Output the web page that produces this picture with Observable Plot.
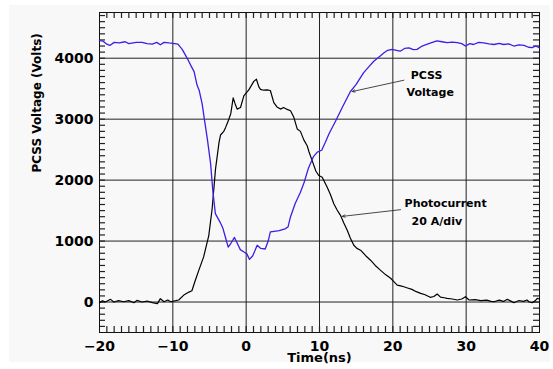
<!DOCTYPE html>
<html><head><meta charset="utf-8">
<script src="https://cdn.jsdelivr.net/npm/d3@7"></script>
<script src="https://cdn.jsdelivr.net/npm/@observablehq/plot@0.6"></script>
<style>
html,body{margin:0;padding:0;background:#fff;}
#wrap{position:relative;width:553px;height:369px;}
#bg{position:absolute;left:9px;top:5px;width:541px;height:357px;background:#f8f8f8;}
#chart{position:absolute;left:0;top:0;}
</style></head>
<body><div id="wrap"><div id="bg"></div><div id="chart"></div></div>
<script>
// PCSS voltage (Volts) vs time (ns)
const voltTime = [-20,-19.5,-19,-18.6,-18,-17.3,-16.5,-16,-15,-14.2,-13.5,-12.8,-12.2,-11.7,-11.2,-10.5,-10,-9.3,-8.7,-8,-7.5,-7.1,-6.7,-6.4,-6,-5.7,-5.3,-4.85,-4.55,-4.2,-3.6,-3.2,-2.8,-2.45,-2.1,-1.6,-1.2,-0.8,-0.3,0.1,0.45,0.9,1.5,2,2.6,3,3.3,3.8,4.5,5.3,5.7,6.05,6.7,7.4,7.9,8.5,9.2,9.7,10.3,10.8,11.3,12.2,13.1,14.2,15,16,16.8,17.4,18.2,18.8,19.3,19.9,20.5,21,21.6,22.2,22.8,23.3,24,24.7,25.4,26,26.7,27.4,28.1,28.8,29.4,29.9,30.5,31,31.7,32.4,33.1,33.8,34.5,35.1,35.8,36.5,37.2,37.9,38.5,39,39.5,40];
const voltValue = [4290,4280,4230,4210,4260,4250,4270,4240,4260,4260,4240,4230,4260,4220,4260,4250,4245,4230,4140,3990,3870,3780,3560,3470,3250,3000,2680,2270,1830,1450,1320,1220,1050,900,960,1060,960,860,820,790,700,760,930,880,870,1000,1150,1160,1170,1200,1230,1400,1620,1800,1960,2200,2390,2460,2490,2620,2760,2970,3190,3450,3570,3760,3870,3950,4030,4090,4130,4145,4130,4115,4160,4170,4140,4145,4200,4230,4260,4285,4270,4255,4265,4255,4240,4200,4240,4225,4260,4250,4235,4225,4245,4225,4235,4200,4220,4210,4180,4175,4200,4170];

// Photocurrent (20 A/div, drawn on the voltage axis) vs time (ns)
const photoTime = [-20,-19.6,-19.2,-18.5,-18.05,-17.4,-16.7,-16,-15.3,-14.9,-14.2,-13.5,-12.8,-12.1,-11.7,-11.2,-10.7,-10.3,-9.6,-9.2,-8.5,-7.8,-7.4,-7,-6.45,-5.8,-5.1,-4.64,-4.18,-3.7,-3.5,-3.05,-2.8,-2.36,-2.1,-1.77,-1.5,-1.23,-0.77,-0.32,0.36,1.04,1.4,1.73,1.95,2.4,2.86,3.3,3.77,4.2,4.68,5.1,5.6,6.05,6.5,6.96,7.4,7.86,8.32,8.55,9,9.5,9.9,10.37,11.05,11.5,11.95,12.4,12.86,13.3,13.78,14.2,14.68,15.1,15.6,16.3,16.96,17.6,18.3,19,19.7,20.1,20.6,21.05,21.5,22,22.6,23.2,23.8,24.4,25.1,25.6,26.05,26.5,27,27.4,28.1,28.8,29.4,29.9,30.4,31.2,32,32.8,33.4,33.8,34.5,35.1,35.6,36.1,36.5,37.2,37.8,38.3,38.6,39,39.4,39.7,40];
const photoValue = [-11,22,0,44,0,22,5,22,-11,27,0,16,-11,-27,55,5,33,5,22,33,114,163,185,332,523,740,1090,1530,2180,2620,2740,2800,2865,3000,3090,3350,3250,3165,3191,3382,3480,3620,3655,3530,3490,3475,3480,3470,3270,3200,3165,3190,3160,3137,3030,2840,2800,2660,2565,2470,2320,2150,2075,2048,1884,1760,1612,1510,1422,1300,1176,1050,931,880,850,760,686,600,523,450,390,340,278,265,250,230,207,170,142,120,77,90,131,80,70,60,50,33,50,87,33,40,22,30,10,5,30,10,44,15,-11,25,10,33,0,-11,20,60,50];

const xDomain = [-20, 40];
const yDomain = [-500, 4750];
const xTicks = [-20,-10,0,10,20,30,40];
const yTicks = [0,1000,2000,3000,4000];
const xMinor = d3.range(-19, 40, 1);
const yMinor = d3.range(-400, 4750, 100);

// annotations
const labelText = ["PCSS", "Voltage", "Photocurrent", "20 A/div"];
const labelX = [24.6, 25.1, 27.2, 26.0];
const labelY = [3725, 3440, 1609, 1315];
const arrowX1 = [21.5, 21.05];
const arrowY1 = [3639, 1515];
const arrowX2 = [14.46, 13.1];
const arrowY2 = [3453, 1405];

const volt = voltTime.map((t, i) => ({t, v: voltValue[i]}));
const photo = photoTime.map((t, i) => ({t, v: photoValue[i]}));
const labels = labelText.map((s, i) => ({s, x: labelX[i], y: labelY[i]}));
const arrows = arrowX1.map((x1, i) => ({x1, y1: arrowY1[i], x2: arrowX2[i], y2: arrowY2[i]}));

const fmt = d => d < 0 ? "\u2212" + (-d) : String(d);

const W = 553, H = 369, ML = 99, MR = 14, MT = 12, MB = 37, TICK = 6;
// tick length of TICK pixels expressed in each scale's units
const tx = TICK * (xDomain[1] - xDomain[0]) / (W - ML - MR);
const ty = TICK * (yDomain[1] - yDomain[0]) / (H - MT - MB);
const tickStyle = {stroke: "#222", strokeWidth: 1.2, strokeOpacity: 1};

const chart = Plot.plot({
  width: W,
  height: H,
  marginLeft: ML,
  marginRight: MR,
  marginTop: MT,
  marginBottom: MB,
  style: {background: "transparent", fontFamily: "DejaVu Sans", fontWeight: "bold", fontSize: "14px", color: "#000"},
  x: {domain: xDomain},
  y: {domain: yDomain},
  marks: [
    Plot.gridX(xTicks, {stroke: "#222", strokeOpacity: 1}),
    Plot.gridY(yTicks, {stroke: "#222", strokeOpacity: 1}),
    // inward minor ticks on all four sides
    Plot.ruleX(xMinor, {x: d => d, y1: () => yDomain[0], y2: () => yDomain[0] + ty, ...tickStyle}),
    Plot.ruleX(xMinor, {x: d => d, y1: () => yDomain[1] - ty, y2: () => yDomain[1], ...tickStyle}),
    Plot.ruleY(yMinor, {y: d => d, x1: () => xDomain[0], x2: () => xDomain[0] + tx, ...tickStyle}),
    Plot.ruleY(yMinor, {y: d => d, x1: () => xDomain[1] - tx, x2: () => xDomain[1], ...tickStyle}),
    Plot.axisX(xTicks, {anchor: "bottom", tickSize: 0, tickPadding: 9, tickFormat: fmt, label: null, fontSize: 14}),
    Plot.axisY(yTicks, {anchor: "left", tickSize: 0, tickPadding: 6, tickFormat: fmt, label: null, fontSize: 14}),
    Plot.frame({stroke: "#111"}),
    Plot.line(photo, {x: "t", y: "v", stroke: "#000", strokeWidth: 1.2}),
    Plot.line(volt, {x: "t", y: "v", stroke: "#3c1ee6", strokeWidth: 1.3}),
    Plot.arrow(arrows, {x1: "x1", y1: "y1", x2: "x2", y2: "y2", stroke: "#333", strokeWidth: 0.9, headLength: 5, headAngle: 45}),
    Plot.text(labels, {x: "x", y: "y", text: "s", fontSize: 11, fontFamily: "DejaVu Sans", fontWeight: "bold"}),
    Plot.text(["Time(ns)"], {frameAnchor: "bottom", dy: 29, fontSize: 13}),
    Plot.text(["PCSS Voltage (Volts)"], {frameAnchor: "left", dx: -62, rotate: -90, fontSize: 12})
  ]
});
document.getElementById("chart").appendChild(chart);
</script>
</body></html>
